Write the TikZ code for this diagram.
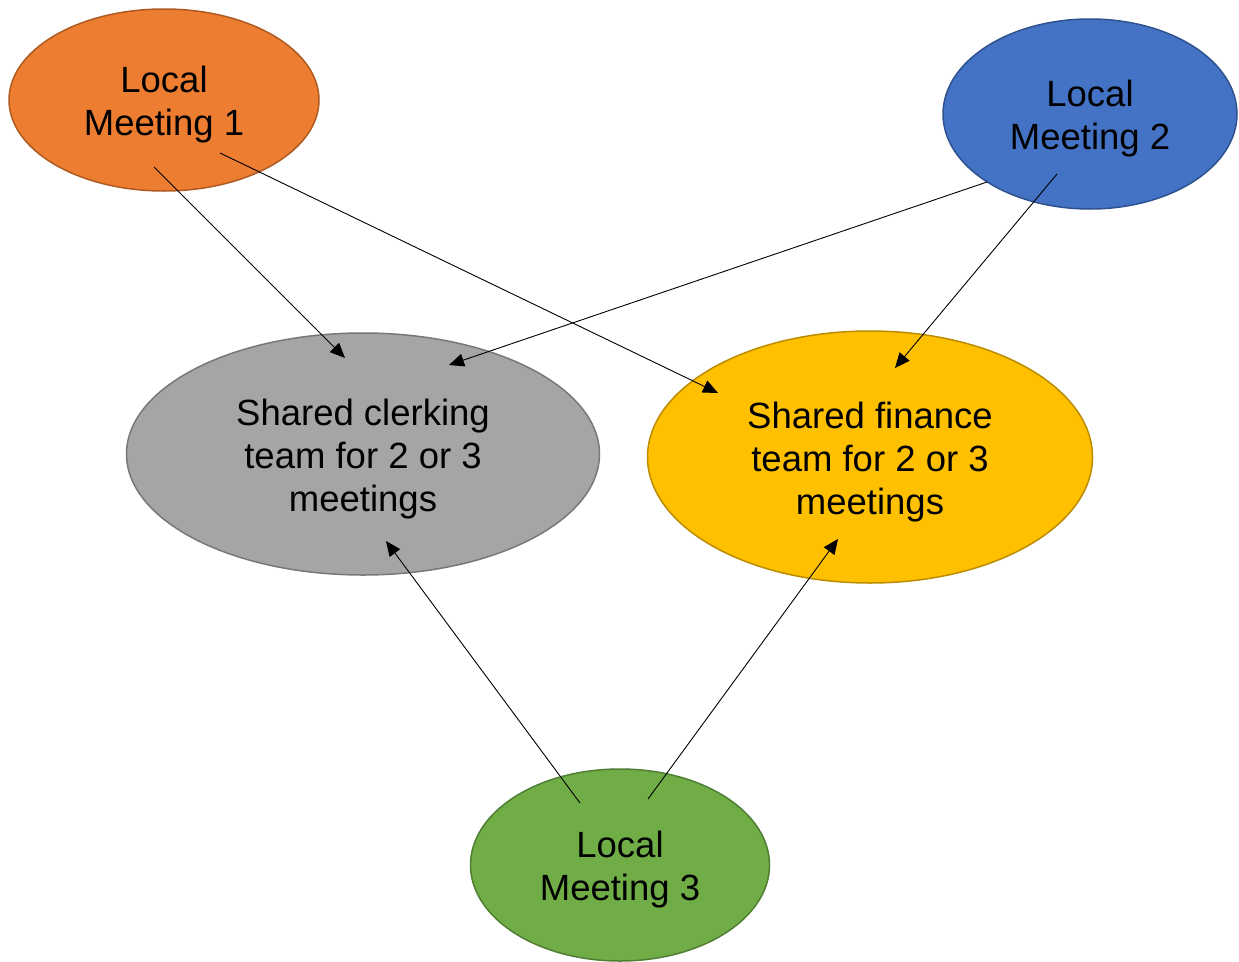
\documentclass[tikz,border=0pt]{standalone}
\usepackage{fontspec}
\setmainfont{Liberation Sans}
\usetikzlibrary{shapes.geometric,arrows.meta}
\definecolor{orangeF}{HTML}{ED7D31}\definecolor{orangeD}{HTML}{AE5A21}
\definecolor{blueF}{HTML}{4472C4}\definecolor{blueD}{HTML}{2F528F}
\definecolor{grayF}{HTML}{A5A5A5}\definecolor{grayD}{HTML}{787878}
\definecolor{yellowF}{HTML}{FFC000}\definecolor{yellowD}{HTML}{BC8C00}
\definecolor{greenF}{HTML}{70AD47}\definecolor{greenD}{HTML}{507E32}
\newcommand{\lowstrut}{\rule{0pt}{36pt}}
\tikzset{
  blob/.style={ellipse, line width=1.5pt, inner sep=0pt, align=center,
    font=\fontsize{36.5}{43}\selectfont},
  arr/.style={line width=0.9pt, -{Triangle[length=15pt,width=13pt]}}
}
\begin{document}
\begin{tikzpicture}[x=1pt,y=-1pt]
\useasboundingbox (0,0) rectangle (1239,961);
\node[blob, fill=orangeF, draw=orangeD, minimum width=310pt, minimum height=182pt] (lm1) at (164,100) {\lowstrut Local\\Meeting 1};
\node[blob, fill=blueF, draw=blueD, minimum width=294pt, minimum height=190pt] (lm2) at (1090,114) {\lowstrut Local\\Meeting 2};
\node[blob, fill=grayF, draw=grayD, minimum width=473pt, minimum height=242pt] (clerk) at (363,454) {\lowstrut Shared clerking\\team for 2 or 3\\meetings};
\node[blob, fill=yellowF, draw=yellowD, minimum width=445pt, minimum height=252pt] (fin) at (870,457) {\lowstrut Shared finance\\team for 2 or 3\\meetings};
\node[blob, fill=greenF, draw=greenD, minimum width=299pt, minimum height=192pt] (lm3) at (620,865) {\lowstrut Local\\Meeting 3};
\draw[arr] ([shift={(-10,67)}]lm1.center) -- ([shift={(-18,-96)}]clerk.center);
\draw[arr] ([shift={(56,53)}]lm1.center) -- ([shift={(-152,-64)}]fin.center);
\draw[arr] ([shift={(-103,68)}]lm2.center) -- ([shift={(86,-89)}]clerk.center);
\draw[arr] ([shift={(-33,60)}]lm2.center) -- ([shift={(25,-89)}]fin.center);
\draw[arr] ([shift={(-40,-62)}]lm3.center) -- ([shift={(23,87)}]clerk.center);
\draw[arr] ([shift={(28,-66)}]lm3.center) -- ([shift={(-32,82)}]fin.center);
\end{tikzpicture}
\end{document}
